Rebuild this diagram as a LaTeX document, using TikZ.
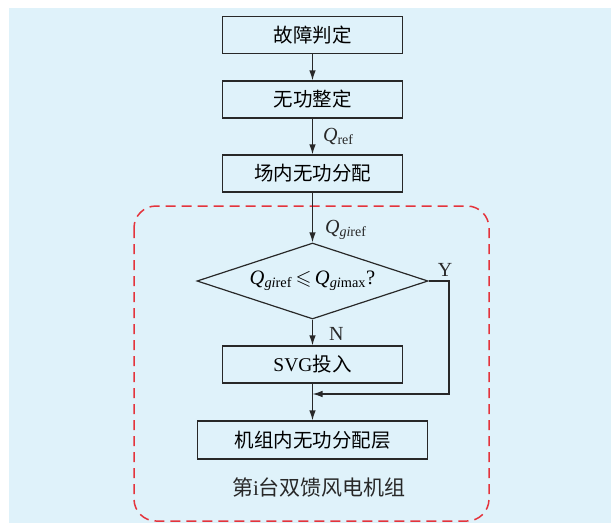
\documentclass[tikz,border=0pt]{standalone}
\usepackage{fontspec}
\usepackage{amssymb}
\setmainfont{Liberation Serif}
\newfontfamily\cjk{Noto Sans CJK SC}
\usetikzlibrary{shapes.geometric,arrows.meta}
\definecolor{bgblue}{RGB}{223,242,250}
\definecolor{dashred}{RGB}{228,52,60}
\definecolor{linegray}{RGB}{40,40,40}
\tikzset{
  procbox/.style={draw=linegray,line width=1.2pt,minimum width=180pt,minimum height=37pt,inner sep=0pt,font=\fontsize{19.5}{22}\selectfont},
  decbox/.style={draw=linegray,line width=1.2pt,shape=diamond,aspect=3,minimum width=231pt,minimum height=76pt,inner sep=0pt,font=\fontsize{20.5}{22}\selectfont},
  arr/.style={draw=linegray,line width=1.2pt,-{Latex[length=10pt,width=6.5pt]}},
  lbl/.style={inner sep=0pt,font=\fontsize{20}{22}\selectfont,text=linegray},
  groupbox/.style={draw=dashred,line width=1.5pt,dash pattern=on 10pt off 6pt,rounded corners=22pt}
}
\begin{document}
\begin{tikzpicture}[x=1pt,y=-1pt]
\useasboundingbox (0,0) rectangle (611,523);
\fill[bgblue] (9,8) rectangle (611,523);
\draw[groupbox] (134,206) rectangle (489,521);
\node[procbox] (b1) at (312.5,35) {\cjk 故障判定};
\node[procbox] (b2) at (312.5,99.5) {\cjk 无功整定};
\node[procbox] (b3) at (312.5,173.5) {\cjk 场内无功分配};
\node[decbox] (dia) at (312.5,281) {\textit{Q}\textsubscript{\textit{gi}ref}$\,\leqslant\,$\textit{Q}\textsubscript{\textit{gi}max}?};
\node[procbox] (svg) at (312.5,364.5) {SVG{\cjk 投入}};
\node[procbox,minimum width=230pt,minimum height=38pt] (b4) at (312.5,440) {\cjk 机组内无功分配层};
\node[lbl,font=\fontsize{21}{22}\selectfont] (grp) at (319,487) {{\cjk 第}i{\cjk 台双馈风电机组}};
\coordinate (join) at (312.5,394);
\coordinate (yc) at (449,394);
\draw[arr] (b1) -- (b2);
\draw[arr] (b2) -- node[lbl,anchor=west,xshift=10pt] (qref) {\textit{Q}\textsubscript{ref}} (b3);
\draw[arr] (b3) -- node[lbl,anchor=west,pos=0.75,xshift=12pt] (qgi) {\textit{Q}\textsubscript{\textit{gi}ref}} (dia);
\draw[arr] (dia) -- node[lbl,anchor=west,pos=0.55,xshift=16pt] (n) {N} (svg);
\draw[arr] (svg) -- (b4);
\draw[arr] (dia.east) -| (yc) -- (join);
\node[lbl] (y) at (445,270) {Y};
\end{tikzpicture}
\end{document}
